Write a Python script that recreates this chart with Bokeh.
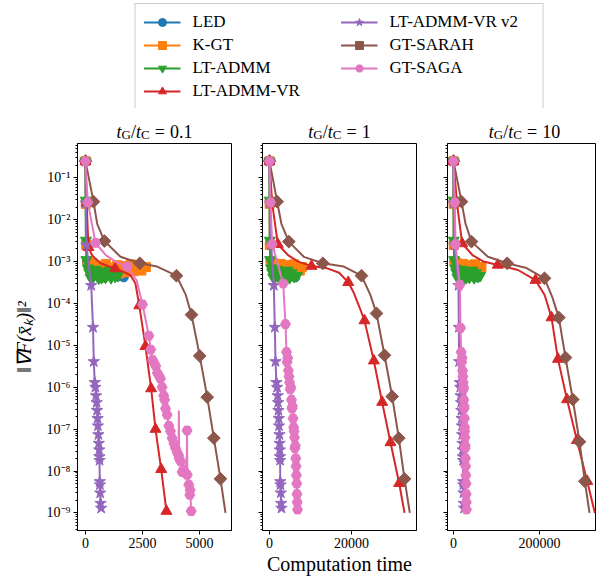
import math
from bokeh.plotting import figure
from bokeh.layouts import column, row
from bokeh.models import (Range1d, FixedTicker, CustomJSTickFormatter, BasicTickFormatter,
                          Legend, LegendItem, Label)
from bokeh.embed import file_html
from bokeh.resources import INLINE

# ---------------- data ----------------
names = ["LED", "K-GT", "LT-ADMM", "LT-ADMM-VR", "LT-ADMM-VR v2", "GT-SARAH", "GT-SAGA"]
ratios = ["0.1", "1", "10"]
x_ticks_p1 = [0, 2500, 5000]
x_ticks_p2 = [0, 20000]
x_ticks_p3 = [0, 200000]
y_ticks = [1e-9, 1e-8, 1e-7, 1e-6, 1e-5, 1e-4, 1e-3, 1e-2, 1e-1]

# LED
led_y = [0.25, 0.025, 2.6e-3, 1.0e-3, 8.0e-4, 6.5e-4, 7.5e-4, 5.5e-4, 6.8e-4, 4.8e-4, 6.0e-4,
         7.2e-4, 5.2e-4, 6.4e-4, 4.6e-4, 5.8e-4, 7.0e-4, 5.0e-4, 6.2e-4, 4.4e-4, 5.6e-4, 4.2e-4]
led_x_p1 = [0, 10, 20, 60, 140, 220, 300, 380, 460, 540, 620, 700, 780, 860, 940, 1020, 1100,
            1200, 1300, 1420, 1550, 1680]
led_x_p2 = [0, 40, 80, 250, 550, 850, 1150, 1450, 1750, 2050, 2350, 2650, 2950, 3250, 3550, 3850,
            4150, 4500, 4900, 5300, 5800, 6300]
led_x_p3 = [0, 300, 600, 2000, 4500, 7000, 9500, 12000, 14500, 17000, 19500, 22000, 24500, 27000,
            29500, 32000, 35000, 38000, 42000, 46000, 51000, 56000]

# K-GT
kgt_y = [0.25, 0.024, 2.5e-3, 1.0e-3, 8.5e-4, 9.2e-4, 7.0e-4, 8.0e-4, 6.2e-4, 7.5e-4, 5.8e-4,
         8.8e-4, 6.5e-4, 5.5e-4, 7.2e-4, 6.0e-4, 8.2e-4, 5.2e-4, 6.8e-4, 7.8e-4, 5.6e-4, 6.4e-4,
         8.6e-4, 5.9e-4, 7.0e-4, 6.1e-4, 7.4e-4]
kgt_x_p1 = [0, 15, 30, 90, 190, 290, 390, 490, 590, 690, 790, 890, 990, 1090, 1190, 1290, 1390,
            1490, 1590, 1690, 1790, 1890, 1990, 2100, 2250, 2450, 2650]
kgt_x_p2 = [0, 40, 80, 300, 600, 900, 1200, 1500, 1800, 2100, 2400, 2700, 3000, 3300, 3600, 3900,
            4200, 4500, 4800, 5100, 5400, 5700, 6000, 6400, 6900, 7400, 7900]
kgt_x_p3 = [0, 300, 600, 2500, 5000, 7500, 10000, 12500, 15000, 17500, 20000, 22500, 25000, 27500,
            30000, 32500, 35000, 37500, 40000, 42500, 45000, 47500, 50000, 53000, 57000, 61000, 65000]

# LT-ADMM
ltadmm_y = [0.25, 0.029, 3.2e-3, 1.1e-3, 7.0e-4, 5.5e-4, 4.2e-4, 6.0e-4, 4.3e-4, 5.0e-4, 6.5e-4,
            4.5e-4, 4.0e-4, 5.2e-4, 4.1e-4, 5.8e-4, 4.4e-4, 4.2e-4, 4.8e-4, 6.2e-4, 4.1e-4, 5.4e-4,
            4.4e-4, 4.6e-4]
ltadmm_x_p1 = [0, 10, 20, 40, 100, 160, 220, 280, 340, 400, 460, 520, 580, 640, 700, 760, 820, 880,
               960, 1040, 1120, 1200, 1300, 1420]
ltadmm_x_p2 = [0, 40, 80, 150, 400, 650, 900, 1150, 1400, 1650, 1900, 2150, 2400, 2650, 2900, 3150,
               3400, 3700, 4000, 4400, 4900, 5400, 6000, 6700]
ltadmm_x_p3 = [0, 300, 600, 1500, 4000, 6500, 9000, 11500, 14000, 16500, 19000, 21500, 24000, 26500,
               29000, 31500, 34000, 37000, 40000, 44000, 48000, 52000, 57000, 62000]

# LT-ADMM-VR
vr_x_p1 = [0, 50, 130, 290, 660, 1300, 1700, 1975, 2190, 2360, 2500, 2630, 2880, 3070, 3320, 3550]
vr_y_p1 = [0.25, 0.025, 2.2e-3, 1.4e-3, 9.1e-4, 6.8e-4, 5.6e-4, 4.7e-4, 3.0e-4, 8.9e-5, 2.8e-5,
           9.5e-6, 9.3e-7, 1.0e-7, 1.1e-8, 1.1e-9]
vr_marks_p1 = [0, 1, 2, 5, 9, 11, 12, 13, 14, 15]
vr_x_p2 = [0, 650, 2030, 4600, 7000, 10240, 14070, 17000, 19200, 20560, 22000, 23170, 25450, 27480,
           29510, 31630, 32930]
vr_y_p2 = [0.25, 0.025, 2.6e-3, 1.4e-3, 1.0e-3, 7.8e-4, 6.9e-4, 5.4e-4, 3.2e-4, 1.8e-4, 7.9e-5,
           3.9e-5, 4.3e-6, 4.4e-7, 4.8e-8, 5.1e-9, 1.0e-9]
vr_marks_p2 = [0, 1, 2, 5, 8, 11, 12, 13, 14, 15]
vr_x_p3 = [0, 8000, 20200, 45000, 70000, 103000, 150000, 190700, 212000, 228000, 243000, 264000,
           287000, 311000, 328700]
vr_y_p3 = [0.25, 0.025, 2.7e-3, 1.4e-3, 1.0e-3, 8.3e-4, 6.3e-4, 3.6e-4, 1.6e-4, 4.6e-5, 4.7e-6,
           5.1e-7, 5.4e-8, 5.7e-9, 1.0e-9]
vr_marks_p3 = [0, 1, 2, 5, 7, 9, 10, 11, 12, 13]

# LT-ADMM-VR v2
v2_y = [0.25, 0.025, 2.5e-3, 2.7e-4, 2.7e-5, 4.1e-6, 1.3e-6, 1.0e-6, 6.3e-7, 4.3e-7, 2.8e-7,
        1.8e-7, 1.2e-7, 7.4e-8, 4.6e-8, 3.2e-8, 2.2e-8, 1.8e-8, 5.6e-9, 4.7e-9, 3.0e-9, 1.7e-9, 1.3e-9]
v2_x_p1 = [0, 20, 40, 250, 330, 364, 405, 435, 462, 488, 508, 530, 545, 565, 582, 600, 608, 616,
           625, 633, 645, 660, 687]
v2_x_p2 = [0, 150, 400, 1050, 1300, 1463, 1680, 1850, 2000, 2100, 2180, 2260, 2320, 2420, 2480,
           2520, 2550, 2590, 2620, 2680, 2760, 2840, 2930]
v2_x_p3 = [0, 600, 2300, 11600, 12400, 13100, 14600, 15700, 16600, 17600, 18300, 19100, 19600,
           20300, 21000, 21600, 21900, 22200, 22500, 22800, 23200, 23800, 24700]

# GT-SARAH
sarah_marks = [0, 1, 3, 5, 7, 9, 10, 11, 12, 13]
sarah_x_p1 = [0, 350, 513, 830, 1535, 2380, 3140, 3990, 4400, 4650, 5010, 5340, 5630, 5920, 6140]
sarah_y_p1 = [0.25, 0.027, 8.0e-3, 3.1e-3, 1.3e-3, 9.1e-4, 7.6e-4, 4.6e-4, 1.6e-4, 5.4e-5, 5.6e-6,
              5.8e-7, 6.1e-8, 6.5e-9, 1.0e-9]
sarah_x_p2 = [0, 1870, 2900, 4710, 8370, 13000, 18120, 22440, 24600, 26100, 28050, 29920, 31540,
              32930, 34220]
sarah_y_p2 = [0.25, 0.027, 8.0e-3, 3.0e-3, 1.3e-3, 9.1e-4, 7.6e-4, 4.6e-4, 1.6e-4, 5.8e-5, 5.8e-6,
              6.0e-7, 6.1e-8, 6.5e-9, 1.0e-9]
sarah_x_p3 = [0, 18600, 28000, 41900, 80000, 124900, 170000, 211600, 230000, 245000, 260500,
              277500, 293000, 305400, 316300]
sarah_y_p3 = [0.25, 0.027, 8.0e-3, 3.0e-3, 1.3e-3, 9.1e-4, 7.0e-4, 4.0e-4, 1.4e-4, 4.6e-5, 5.1e-6,
              5.1e-7, 5.0e-8, 5.7e-9, 1.0e-9]

# GT-SAGA
saga_x_p1 = [0, 100, 440, 900, 1400, 1830, 2250, 2500, 2780, 2860, 2940, 3000, 3080, 3150, 3220,
             3290, 3360, 3430, 3470, 3510, 3580, 3655, 3730, 3800, 3880, 3950, 4020, 4080, 4095,
             4110, 4170, 4240, 4300, 4380, 4440, 4455, 4465, 4530, 4575, 4590, 4636]
saga_y_p1 = [0.25, 0.026, 2.8e-3, 1.4e-3, 9.5e-4, 7.6e-4, 3.5e-4, 9.5e-5, 1.7e-5, 7.9e-6, 4.5e-6,
             3.9e-6, 3.2e-6, 2.2e-6, 1.9e-6, 1.6e-6, 1.0e-6, 6.3e-7, 5.0e-7, 3.1e-7, 2.2e-7,
             1.2e-7, 8.9e-8, 6.1e-8, 4.5e-8, 3.5e-8, 2.8e-8, 2.4e-8, 2.8e-7, 2.0e-8, 1.7e-8,
             9.5e-9, 1.1e-8, 8.9e-9, 2.2e-8, 9.3e-8, 8.1e-9, 4.7e-9, 2.7e-9, 3.5e-9, 1.1e-9]
saga_marks_p1 = [0, 1, 2, 5, 7, 8, 9, 10, 11, 12, 13, 14, 15, 16, 17, 18, 19, 20, 21, 22, 23, 24,
                 25, 26, 27, 29, 30, 31, 32, 33, 35, 36, 37, 38, 39, 40]
saga_x_p2 = [0, 250, 650, 3340, 3900, 4150, 4300, 4450, 4600, 4750, 4900, 5050, 5200, 5350, 5500,
             5600, 5750, 5900, 6000, 6100, 6200, 6300, 6400, 6480, 6560, 6640, 6700, 6760, 6830]
saga_y_p2 = [0.25, 0.026, 2.6e-3, 3.0e-4, 3.2e-5, 6.9e-6, 4.0e-6, 5.0e-6, 2.5e-6, 1.8e-6, 1.3e-6,
             8.9e-7, 1.0e-6, 5.0e-7, 3.1e-7, 3.5e-7, 1.8e-7, 1.1e-7, 8.9e-8, 6.3e-8, 3.5e-8,
             4.0e-8, 2.0e-8, 1.3e-8, 7.9e-9, 5.0e-9, 2.8e-9, 1.8e-9, 1.2e-9]
saga_x_p3 = [0, 3000, 4650, 14700, 16280, 17800, 19000, 20200, 21000, 21800, 22600, 23000, 23500,
             24000, 24600, 25000, 25600, 26000, 26300, 26700, 27000, 27400, 27900, 28300, 28800,
             29300, 29600, 29900, 30200]
saga_y_p3 = [0.25, 0.026, 2.6e-3, 2.8e-4, 2.6e-5, 6.9e-6, 4.0e-6, 5.0e-6, 2.5e-6, 1.8e-6, 1.3e-6,
             8.9e-7, 1.0e-6, 5.0e-7, 3.1e-7, 3.5e-7, 1.8e-7, 1.1e-7, 8.9e-8, 6.3e-8, 3.5e-8,
             4.0e-8, 2.0e-8, 1.3e-8, 7.9e-9, 5.0e-9, 2.8e-9, 1.8e-9, 1.2e-9]

# ---------------- styling / layout ----------------
FONT = "Liberation Serif"
STYLE = {
    "LED": ("#1f77b4", "circle", 9, 0.0),
    "K-GT": ("#ff7f0e", "square", 9, 0.0),
    "LT-ADMM": ("#2ca02c", "inverted_triangle", 11, 0.0),
    "LT-ADMM-VR": ("#d62728", "triangle", 11, 0.0),
    "LT-ADMM-VR v2": ("#9467bd", "star", 12, 0.0),
    "GT-SARAH": ("#8c564b", "square", 9, math.pi / 4),
    "GT-SAGA": ("#e377c2", "hex", 10, 0.0),
}

panels_data = [
    [("LED", led_x_p1, led_y, None), ("K-GT", kgt_x_p1, kgt_y, None),
     ("LT-ADMM", ltadmm_x_p1, ltadmm_y, None), ("LT-ADMM-VR", vr_x_p1, vr_y_p1, vr_marks_p1),
     ("LT-ADMM-VR v2", v2_x_p1, v2_y, None), ("GT-SARAH", sarah_x_p1, sarah_y_p1, sarah_marks),
     ("GT-SAGA", saga_x_p1, saga_y_p1, saga_marks_p1)],
    [("LED", led_x_p2, led_y, None), ("K-GT", kgt_x_p2, kgt_y, None),
     ("LT-ADMM", ltadmm_x_p2, ltadmm_y, None), ("LT-ADMM-VR", vr_x_p2, vr_y_p2, vr_marks_p2),
     ("LT-ADMM-VR v2", v2_x_p2, v2_y, None), ("GT-SARAH", sarah_x_p2, sarah_y_p2, sarah_marks),
     ("GT-SAGA", saga_x_p2, saga_y_p2, None)],
    [("LED", led_x_p3, led_y, None), ("K-GT", kgt_x_p3, kgt_y, None),
     ("LT-ADMM", ltadmm_x_p3, ltadmm_y, None), ("LT-ADMM-VR", vr_x_p3, vr_y_p3, vr_marks_p3),
     ("LT-ADMM-VR v2", v2_x_p3, v2_y, None), ("GT-SARAH", sarah_x_p3, sarah_y_p3, sarah_marks),
     ("GT-SAGA", saga_x_p3, saga_y_p3, None)],
]
x_ranges = [(-351, 6404), (-1707, 35853), (-13950, 330240)]
x_ticks = [x_ticks_p1, x_ticks_p2, x_ticks_p3]
lefts = [77, 27, 27]
rights = [4, 4, 3]
fws = [154, 154, 148]
FH = 387
Y_RANGE = (3.8e-10, 0.66)
minor_y = [m * 10.0 ** e for e in range(-10, 0) for m in range(2, 10)]

SUP = """
const e = Math.round(Math.log10(tick));
const m = {'0':'\u2070','1':'\u00b9','2':'\u00b2','3':'\u00b3','4':'\u2074','5':'\u2075',
           '6':'\u2076','7':'\u2077','8':'\u2078','9':'\u2079','-':'\u207b'};
return '10' + String(e).split('').map(c => m[c]).join('');
"""


def title_figure(left, right, fw, ratio):
    t = figure(frame_width=fw, frame_height=34, min_border_left=left, min_border_right=right,
               min_border_top=0, min_border_bottom=0, x_axis_type=None, y_axis_type=None,
               x_range=Range1d(0, 1), y_range=Range1d(0, 1), output_backend="svg",
               toolbar_location=None)
    t.grid.visible = False
    t.outline_line_color = None
    base, sub = 18, 13
    w_t = 0.278 * base
    w_g = 0.722 * sub
    w_sl = 0.278 * base
    w_c = 0.667 * sub
    gap = 0.28 * base
    w_eq = 0.564 * base
    w_val = sum(0.5 if ch.isdigit() else 0.25 for ch in ratio) * base
    total = w_t + w_g + w_sl + w_t + w_c + gap + w_eq + gap + w_val
    x = 154 / 2 - total / 2
    y = 11
    pieces = [("t", "italic", base, 0, w_t), ("G", "normal", sub, -3, w_g),
              ("/", "normal", base, 0, w_sl), ("t", "italic", base, 0, w_t),
              ("C", "normal", sub, -3, w_c + gap), ("=", "normal", base, 0, w_eq + gap),
              (ratio, "normal", base, 0, w_val)]
    for txt, style, size, dy, w in pieces:
        t.add_layout(Label(x=x, y=y + dy, x_units="screen", y_units="screen", text=txt,
                           text_font=FONT, text_font_size=f"{size}px", text_font_style=style,
                           text_baseline="alphabetic", text_align="left", text_color="black"))
        x += w
    return t


cols = []
for i in range(3):
    p = figure(frame_width=fws[i], frame_height=FH, min_border_left=lefts[i],
               min_border_right=rights[i], min_border_top=1, min_border_bottom=30,
               y_axis_type="log", x_range=Range1d(*x_ranges[i]), y_range=Range1d(*Y_RANGE),
               output_backend="svg", toolbar_location=None)
    p.grid.visible = False
    p.outline_line_color = "black"
    p.outline_line_alpha = 1.0
    p.outline_line_width = 1
    p.background_fill_color = "white"
    p.border_fill_color = "white"

    p.xaxis.ticker = FixedTicker(ticks=x_ticks[i], minor_ticks=[])
    p.xaxis.formatter = BasicTickFormatter(use_scientific=False)
    p.yaxis.ticker = FixedTicker(ticks=y_ticks, minor_ticks=minor_y)
    if i == 0:
        p.yaxis.formatter = CustomJSTickFormatter(code=SUP)
        p.yaxis.axis_label = "\u2016\u2207F(x\u0304\u2096)\u2016\u00b2"
        p.yaxis.axis_label_text_font = FONT
        p.yaxis.axis_label_text_font_size = "20px"
        p.yaxis.axis_label_text_font_style = "italic"
        p.yaxis.axis_label_text_color = "black"
        p.yaxis.axis_label_standoff = 9
    else:
        p.yaxis.formatter = CustomJSTickFormatter(code="return '';")
        p.yaxis.major_label_standoff = 0
    if i == 1:
        p.xaxis.axis_label = "Computation time"
        p.xaxis.axis_label_text_font = FONT
        p.xaxis.axis_label_text_font_size = "20px"
        p.xaxis.axis_label_text_font_style = "normal"
        p.xaxis.axis_label_text_color = "black"
        p.xaxis.axis_label_standoff = 2
    for ax in (p.xaxis[0], p.yaxis[0]):
        ax.axis_line_color = "black"
        ax.axis_line_width = 1
        ax.major_tick_line_color = "black"
        ax.minor_tick_line_color = "black"
        ax.major_tick_in = 0
        ax.major_tick_out = 4
        ax.minor_tick_in = 0
        ax.minor_tick_out = 2
        ax.major_label_text_font = FONT
        ax.major_label_text_font_size = "14px"
        ax.major_label_text_color = "black"
    p.xaxis.major_label_standoff = 3
    if i == 0:
        p.yaxis.major_label_standoff = 3

    for name, xs, ys, marks in panels_data[i]:
        color, marker, size, angle = STYLE[name]
        p.line(xs, ys, line_color=color, line_width=2)
        idx = range(len(xs)) if marks is None else marks
        p.scatter([xs[k] for k in idx], [ys[k] for k in idx], marker=marker, size=size,
                  angle=angle, fill_color=color, line_color=color)

    t = title_figure(lefts[i], rights[i], fws[i], ratios[i])
    cols.append(column(t, p))

# legend figure
lg = figure(width=598, height=108, x_range=Range1d(0, 1), y_range=Range1d(0, 1),
            x_axis_type=None, y_axis_type=None, output_backend="svg", toolbar_location=None,
            min_border_left=80, min_border_right=0, min_border_top=3, min_border_bottom=0)
lg.grid.visible = False
lg.outline_line_color = None
items = []
for name in names:
    color, marker, size, angle = STYLE[name]
    lr = lg.line([math.nan], [math.nan], line_color=color, line_width=2)
    sr = lg.scatter([math.nan], [math.nan], marker=marker, size=size, angle=angle,
                    fill_color=color, line_color=color)
    items.append(LegendItem(label=name, renderers=[lr, sr]))
legend = Legend(items=items, ncols=2, orientation="vertical", location="top_center", margin=0,
                padding=8, spacing=3, glyph_width=37, glyph_height=20, label_height=20,
                label_width=145, label_standoff=12, label_text_font=FONT,
                label_text_font_size="17px", label_text_color="black",
                border_line_color="#cccccc", border_line_width=1, border_line_alpha=1.0,
                background_fill_color="white", background_fill_alpha=1.0)
lg.add_layout(legend)

layout = column(lg, row(*cols))
open("out.html", "w").write(file_html(layout, INLINE))
